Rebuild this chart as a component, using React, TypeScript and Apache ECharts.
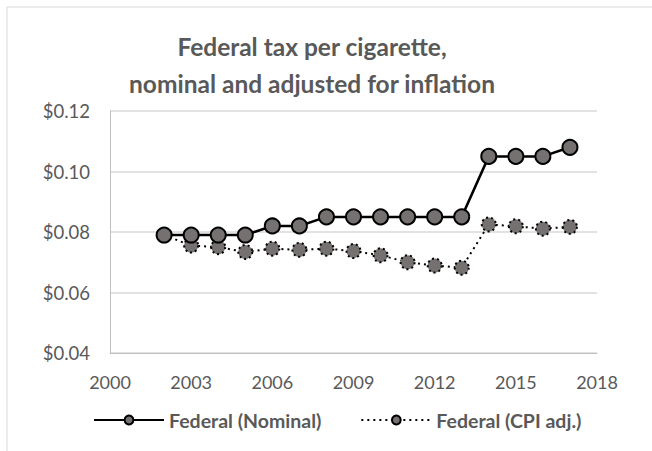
import React, { useEffect, useRef } from "react";
import * as echarts from "echarts";

const years = [2002, 2003, 2004, 2005, 2006, 2007, 2008, 2009, 2010, 2011, 2012, 2013, 2014, 2015, 2016, 2017];
const nominal = [0.079, 0.079, 0.079, 0.079, 0.082, 0.082, 0.085, 0.085, 0.085, 0.085, 0.085, 0.085, 0.105, 0.105, 0.105, 0.108];
const cpiAdj = [0.079, 0.0755, 0.075, 0.0734, 0.0745, 0.0741, 0.0745, 0.0737, 0.0723, 0.0700, 0.0689, 0.0682, 0.0825, 0.0819, 0.0811, 0.0817];
const seriesNames = ["Federal (Nominal)", "Federal (CPI adj.)"];
const titleText = "Federal tax per cigarette,\nnominal and adjusted for inflation";

const FONT = "Lato";
const TXT = "#595959";
const MARK = "#767171";

export default function App() {
  const ref = useRef<HTMLDivElement>(null);
  useEffect(() => {
    const chart = echarts.init(ref.current!, null, { renderer: "svg" });
    chart.setOption({
      animation: false,
      backgroundColor: "#ffffff",
      title: {
        text: titleText,
        left: 307,
        top: 23,
        textAlign: "center",
        textStyle: { fontFamily: FONT, fontWeight: "bold", fontSize: 24.5, color: TXT, lineHeight: 37 },
      },
      graphic: [
        {
          type: "rect",
          shape: { x: 7, y: 7, width: 700, height: 500 },
          style: { fill: "none", stroke: "#d9d9d9", lineWidth: 1 },
          silent: true,
        },
      ],
      legend: {
        left: 88,
        top: 405,
        itemWidth: 70,
        itemHeight: 11,
        itemGap: 39,
        textStyle: { fontFamily: FONT, fontWeight: "bold", fontSize: 19.5, color: TXT },
        data: seriesNames,
      },
      grid: { left: 110, right: 55, top: 111, bottom: 98 },
      xAxis: {
        type: "value",
        min: 2000,
        max: 2018,
        interval: 3,
        axisLine: { show: true, lineStyle: { color: "#bfbfbf", width: 1 } },
        axisTick: { show: false },
        splitLine: { show: false },
        axisLabel: {
          fontFamily: FONT,
          fontSize: 18,
          color: TXT,
          margin: 20,
          formatter: (v: number) => String(v),
        },
      },
      yAxis: {
        type: "value",
        min: 0.04,
        max: 0.12,
        interval: 0.02,
        axisLine: { show: true, lineStyle: { color: "#bfbfbf", width: 1 } },
        axisTick: { show: false },
        splitLine: { show: true, lineStyle: { color: "#d9d9d9", width: 1.5 } },
        axisLabel: {
          fontFamily: FONT,
          fontSize: 18.5,
          color: TXT,
          margin: 20,
          formatter: (v: number) => "$" + v.toFixed(2),
        },
      },
      series: [
        {
          name: seriesNames[0],
          type: "line",
          data: years.map((y, i) => [y, nominal[i]]),
          symbol: "circle",
          symbolSize: 15,
          lineStyle: { color: "#000000", width: 2.5 },
          itemStyle: { color: MARK, borderColor: "#000000", borderWidth: 2 },
          z: 3,
        },
        {
          name: seriesNames[1],
          type: "line",
          data: years.map((y, i) => [y, cpiAdj[i]]),
          symbol: "circle",
          symbolSize: 14,
          lineStyle: { color: "#000000", width: 2, type: [2, 4] },
          itemStyle: { color: MARK, borderColor: "#000000", borderWidth: 2, borderType: [2, 3] },
          z: 2,
        },
      ],
    });
    return () => chart.dispose();
  }, []);
  return <div ref={ref} style={{ width: 652, height: 451, position: "absolute", left: 0, top: 0 }} />;
}
